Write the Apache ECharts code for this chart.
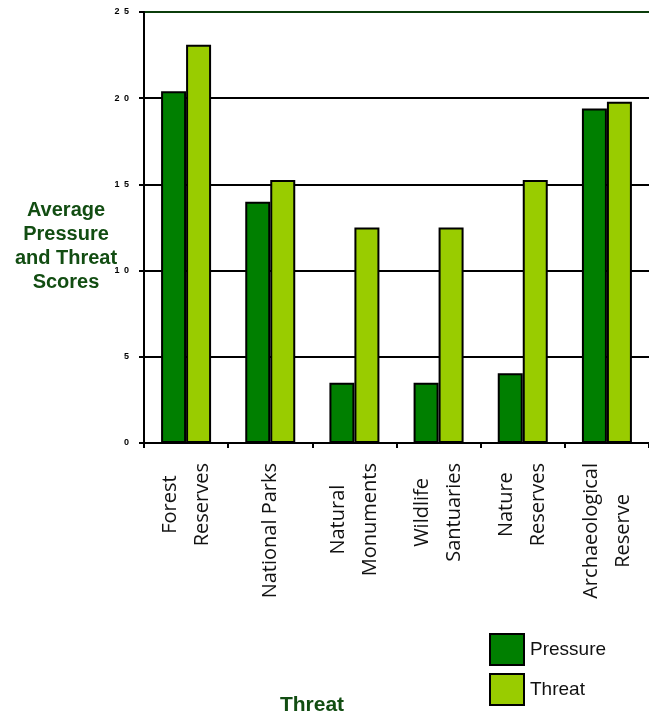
<!DOCTYPE html>
<html>
<head>
<meta charset="utf-8">
<style>
  html, body { margin: 0; padding: 0; background: #ffffff; }
  #chart { width: 649px; height: 717px; }
</style>
<script src="https://cdn.jsdelivr.net/npm/echarts@6/dist/echarts.min.js"></script>
</head>
<body>
<div id="chart"></div>
<script>
// Protected area types (line breaks mark where each label wraps)
var categories = [
  'Forest\nReserves',
  'National Parks',
  'Natural\nMonuments',
  'Wildlife\nSantuaries',
  'Nature\nReserves',
  'Archaeological\nReserve'
];

// Average scores per area type
var pressureScores = [20.4, 14.0, 3.5, 3.5, 4.05, 19.4];
var threatScores   = [23.1, 15.25, 12.5, 12.5, 15.25, 19.8];

// Value axis ticks
var yTicks = [0, 5, 10, 15, 20, 25];

var DARK_GREEN_TEXT = '#124d12';
var SANS = '"Liberation Sans", Arial, sans-serif';

var chart = echarts.init(document.getElementById('chart'), null, { renderer: 'canvas' });

function legendBox(name, top) {
  return {
    orient: 'vertical',
    left: 489,
    top: top,
    padding: 0,
    itemWidth: 34,
    itemHeight: 31,
    itemGap: 9,
    icon: 'rect',
    textStyle: { fontFamily: SANS, fontSize: 19, color: '#111111', padding: [8, 0, 0, 1] },
    data: [name]
  };
}

var option = {
  backgroundColor: '#ffffff',
  animation: false,
  grid: { left: 144, top: 12, width: 510, bottom: 274, containLabel: false },
  legend: [legendBox('Pressure', 633), legendBox('Threat', 673)],
  xAxis: {
    type: 'category',
    data: categories,
    axisLine: { show: true, lineStyle: { color: '#000000', width: 2 } },
    axisTick: { show: true, length: 5, lineStyle: { color: '#000000', width: 2 } },
    axisLabel: {
      interval: 0,
      rotate: 90,
      margin: 20,
      formatter: function (value) {
        return value.split('\n').map(function (s) { return '{c|' + s + '}'; }).join('\n');
      },
      rich: {
        c: {
          fontFamily: '"Open Sans", "Noto Sans", sans-serif',
          fontSize: 20,
          lineHeight: 32,
          color: '#111111',
          align: 'center'
        }
      }
    }
  },
  yAxis: {
    type: 'value',
    min: yTicks[0],
    max: yTicks[yTicks.length - 1],
    interval: yTicks[1] - yTicks[0],
    axisLine: { show: true, lineStyle: { color: '#000000', width: 2 } },
    axisTick: { show: true, length: 5, lineStyle: { color: '#000000', width: 2 } },
    axisLabel: {
      margin: 15,
      fontFamily: SANS,
      fontSize: 9,
      fontWeight: 'bold',
      color: '#000000',
      formatter: function (v) { return String(v).split('').join('\u2002'); }
    },
    splitLine: {
      show: true,
      lineStyle: {
        color: ['#000000', '#000000', '#000000', '#000000', '#000000', '#0b3d0b'],
        width: 2
      }
    }
  },
  series: [
    {
      name: 'Pressure',
      type: 'bar',
      data: pressureScores,
      barWidth: 25,
      barGap: '0%',
      itemStyle: { color: '#007f00', borderColor: '#000000', borderWidth: 2 }
    },
    {
      name: 'Threat',
      type: 'bar',
      data: threatScores,
      barWidth: 25,
      barGap: '0%',
      itemStyle: { color: '#99cc00', borderColor: '#000000', borderWidth: 2 }
    }
  ],
  graphic: [
    {
      type: 'text',
      x: 66,
      y: 246,
      style: {
        text: 'Average\nPressure\nand Threat\nScores',
        align: 'center',
        verticalAlign: 'middle',
        font: 'bold 20px ' + SANS,
        lineHeight: 24,
        fill: DARK_GREEN_TEXT
      }
    },
    {
      type: 'text',
      x: 312,
      y: 705,
      style: {
        text: 'Threat',
        align: 'center',
        verticalAlign: 'middle',
        font: 'bold 21px ' + SANS,
        fill: DARK_GREEN_TEXT
      }
    }
  ]
};

chart.setOption(option);
</script>
</body>
</html>
